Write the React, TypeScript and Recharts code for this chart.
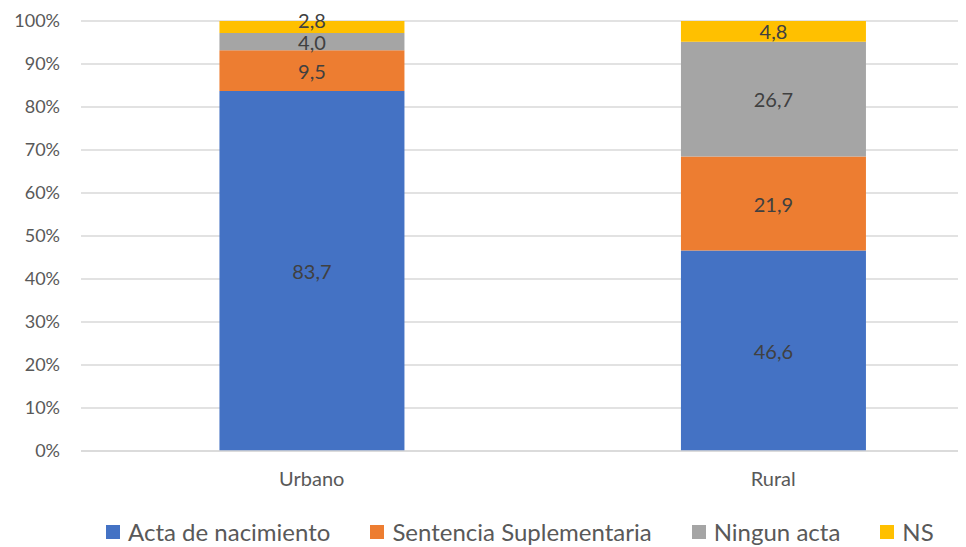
import React from 'react'
import { Bar, BarChart, CartesianGrid, LabelList, XAxis, YAxis } from 'recharts'

const categories = ['Urbano', 'Rural']
const actaNacimiento = [83.7, 46.6]
const sentenciaSuplementaria = [9.5, 21.9]
const ningunActa = [4.0, 26.7]
const noSabe = [2.8, 4.8]
const yTicks = [0, 10, 20, 30, 40, 50, 60, 70, 80, 90, 100]

const series = [
  { key: 'acta', name: 'Acta de nacimiento', color: '#4472C4' },
  { key: 'sentencia', name: 'Sentencia Suplementaria', color: '#ED7D31' },
  { key: 'ninguna', name: 'Ningun acta', color: '#A5A5A5' },
  { key: 'ns', name: 'NS', color: '#FFC000' },
]

const data = categories.map((c, i) => ({
  name: c,
  acta: actaNacimiento[i],
  sentencia: sentenciaSuplementaria[i],
  ninguna: ningunActa[i],
  ns: noSabe[i],
}))

const FONT = 'Lato, "Noto Sans", sans-serif'

const fmt = (v: any) => Number(v).toFixed(1).replace('.', ',')

// centred label; thin top segments get nudged up like Excel does
const makeLabel = (isTop: boolean) => (props: any) => {
  const { x, y, width, height, value } = props
  let cy = y + height / 2
  if (isTop && height < 18) cy -= 7
  return (
    <text
      x={x + width / 2}
      y={cy}
      textAnchor="middle"
      dominantBaseline="central"
      fontFamily={FONT}
      fontSize={20}
      fill="#404040"
    >
      {fmt(value)}
    </text>
  )
}

export default function App() {
  return (
    <div style={{ position: 'relative', width: 958, height: 539, overflow: 'hidden', background: '#fff' }}>
      <BarChart
        width={1010}
        height={539}
        data={data}
        margin={{ top: 13, right: 14, left: 13, bottom: 66 }}
        barCategoryGap="30%"
      >
        <CartesianGrid vertical={false} stroke="#D9D9D9" strokeWidth={1.5} />
        <XAxis
          dataKey="name"
          axisLine={{ stroke: '#D9D9D9', strokeWidth: 1.5 }}
          tickLine={false}
          tickSize={0}
          tickMargin={21}
          height={30}
          tick={{ fontFamily: FONT, fontSize: 20, fill: '#595959' }}
        />
        <YAxis
          width={60}
          domain={[0, 100]}
          ticks={yTicks}
          tickFormatter={(v) => `${v}%`}
          axisLine={false}
          tickLine={false}
          tickSize={0}
          tickMargin={21}
          interval={0}
          tick={{ fontFamily: FONT, fontSize: 18, fill: '#595959' }}
        />
        {series.map((s, i) => (
          <Bar key={s.key} dataKey={s.key} name={s.name} stackId="a" fill={s.color} isAnimationActive={false}>
            <LabelList dataKey={s.key} content={makeLabel(i === series.length - 1)} />
          </Bar>
        ))}
      </BarChart>
      <div
        style={{
          position: 'absolute',
          left: 98,
          top: 510,
          display: 'flex',
          alignItems: 'center',
          gap: 40,
          fontFamily: FONT,
          fontSize: 24,
          lineHeight: '28px',
          color: '#595959',
          whiteSpace: 'nowrap',
        }}
      >
        {series.map((s) => (
          <div key={s.key} style={{ display: 'flex', alignItems: 'center' }}>
            <span style={{ width: 14, height: 14, background: s.color, marginRight: 8, display: 'inline-block' }} />
            <span>{s.name}</span>
          </div>
        ))}
      </div>
    </div>
  )
}
